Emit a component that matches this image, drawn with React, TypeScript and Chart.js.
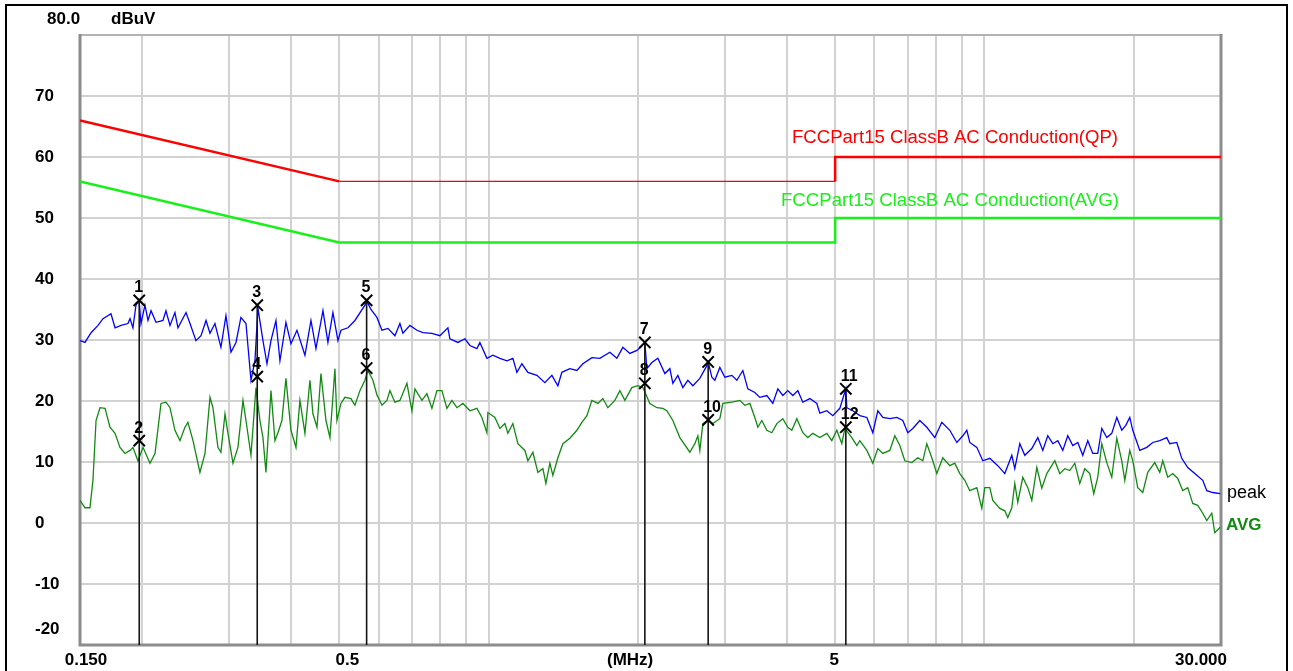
import React, { useEffect, useRef } from "react";
import { Chart, registerables } from "chart.js";

Chart.register(...registerables);

// ---------- axis ----------
const X_MIN = 0.15;
const X_MAX = 30;
const Y_MIN = -20;
const Y_MAX = 80;
const xGridValues = [0.15, 0.2, 0.3, 0.4, 0.5, 0.6, 0.7, 0.8, 0.9, 1, 2, 3, 4, 5, 6, 7, 8, 9, 10, 20, 30];
const xTickValues = [0.15, 0.5, 1.93, 5, 30];
const xTickLabels = ["0.150", "0.5", "(MHz)", "5", "30.000"];

// ---------- peak trace (MHz / dBuV) ----------
const peakFreq = [
  0.150, 0.1535, 0.1579, 0.1631, 0.1669, 0.1732, 0.1765, 0.1815, 0.1874, 0.1892,
  0.1918, 0.1945, 0.1973, 0.1991, 0.2028, 0.2057, 0.2086, 0.2135, 0.2205, 0.2236,
  0.2278, 0.2331, 0.2364, 0.2454, 0.2500, 0.2570, 0.2631, 0.2693, 0.2743, 0.2807,
  0.2886, 0.2954, 0.3024, 0.3095, 0.3167, 0.3242, 0.3318, 0.3380, 0.3427, 0.3508,
  0.3574, 0.3641, 0.3726, 0.3796, 0.3903, 0.3995, 0.4108, 0.4263, 0.4384, 0.4487,
  0.4635, 0.4743, 0.4855, 0.4969, 0.5039, 0.5205, 0.5377, 0.5633, 0.5677, 0.5792,
  0.5955, 0.6095, 0.6267, 0.6474, 0.6626, 0.6719, 0.6941, 0.7171, 0.7373, 0.7687,
  0.7978, 0.8280, 0.8357, 0.8673, 0.8960, 0.9171, 0.9474, 0.9606, 0.9924, 1.0204,
  1.0541, 1.0890, 1.1196, 1.1407, 1.1674, 1.2004, 1.2517, 1.2990, 1.3419, 1.3798,
  1.4056, 1.4589, 1.5071, 1.5496, 1.6157, 1.6769, 1.7565, 1.8146, 1.8658, 1.9275,
  1.9913, 2.0378, 2.0664, 2.0858, 2.1347, 2.1949, 2.2676, 2.3208, 2.3533, 2.4085,
  2.4651, 2.5230, 2.5823, 2.6676, 2.7559, 2.7727, 2.8204, 2.8601, 2.9271, 2.9959,
  3.0948, 3.1678, 3.2570, 3.3334, 3.4437, 3.5245, 3.6412, 3.7437, 3.8316, 3.9216,
  4.0137, 4.1079, 4.2043, 4.3032, 4.4455, 4.5926, 4.6568, 4.8109, 4.9464, 5.1099,
  5.2545, 5.2790, 5.4277, 5.6071, 5.7927, 5.9558, 6.0956, 6.2388, 6.4451, 6.6584,
  6.8459, 7.0066, 7.1712, 7.4083, 7.6535, 7.9428, 8.2047, 8.5155, 8.7974, 9.0451,
  9.2155, 9.3441, 9.6534, 9.9251, 10.253, 10.641, 10.992, 11.356, 11.515, 11.786,
  12.063, 12.461, 12.813, 13.113, 13.421, 13.737, 14.059, 14.390, 14.727, 15.073,
  15.427, 15.789, 16.160, 16.539, 16.928, 17.246, 17.653, 18.064, 18.490, 18.923,
  19.280, 19.640, 19.915, 20.573, 21.254, 21.853, 22.575, 23.322, 23.648, 24.431,
  25.002, 25.708, 26.559, 27.563, 28.082, 28.873, 29.9,
];
const peakLevel = [
  29.9, 29.6, 31.2, 32.4, 33.5, 34.3, 32.0, 32.4, 32.7, 33.5,
  32.0, 35.7, 36.5, 32.7, 35.7, 33.2, 34.8, 32.9, 33.2, 34.8,
  32.4, 34.5, 32.0, 34.5, 32.7, 29.9, 30.7, 33.2, 31.1, 32.7,
  28.8, 34.0, 28.0, 29.6, 33.7, 32.7, 23.4, 26.6, 35.2, 29.9,
  26.1, 29.9, 33.2, 26.6, 32.9, 29.4, 31.6, 27.5, 33.2, 28.6,
  34.8, 29.6, 34.5, 29.9, 31.6, 32.0, 33.2, 35.7, 36.4, 35.0,
  33.7, 31.6, 31.9, 30.7, 32.7, 31.1, 32.4, 31.6, 31.2, 31.1,
  30.7, 32.0, 30.2, 29.6, 30.2, 29.1, 28.6, 29.6, 27.0, 27.5,
  27.0, 26.6, 27.0, 24.7, 26.1, 24.7, 24.2, 23.0, 24.2, 22.5,
  24.7, 25.3, 25.0, 26.1, 27.1, 27.0, 28.0, 27.0, 28.8, 27.8,
  28.3, 29.0, 29.6, 25.3, 26.3, 27.0, 24.5, 25.3, 22.9, 24.2,
  22.2, 23.4, 22.5, 23.7, 25.8, 26.4, 23.9, 23.4, 25.5, 23.9,
  24.2, 23.4, 25.0, 22.0, 21.4, 20.6, 20.9, 19.6, 22.0, 20.9,
  21.7, 20.9, 21.7, 19.8, 20.4, 19.6, 18.0, 18.4, 17.6, 18.8,
  22.0, 18.9, 18.4, 17.6, 17.3, 14.8, 18.4, 17.3, 17.1, 17.3,
  16.8, 14.8, 15.5, 16.8, 15.7, 14.0, 16.5, 15.2, 13.2, 14.3,
  15.2, 13.2, 12.4, 10.2, 10.6, 9.4, 8.1, 11.1, 8.9, 13.0,
  11.1, 12.2, 14.0, 11.9, 14.3, 13.0, 13.5, 11.9, 14.3, 12.7,
  13.2, 11.1, 13.5, 11.4, 11.4, 15.5, 14.0, 14.7, 17.3, 15.2,
  16.0, 17.3, 15.2, 11.9, 12.4, 13.2, 13.5, 14.0, 13.0, 13.2,
  10.6, 9.1, 8.1, 7.0, 5.3, 5.0, 4.8,
];

// ---------- average trace (MHz / dBuV) ----------
const avgFreq = [
  0.150, 0.1535, 0.1571, 0.1593, 0.1616, 0.1646, 0.1685, 0.1724, 0.1765, 0.1806,
  0.1849, 0.1892, 0.1918, 0.1963, 0.2010, 0.2076, 0.2125, 0.2185, 0.2236, 0.2278,
  0.2331, 0.2386, 0.2442, 0.2476, 0.2535, 0.2618, 0.2680, 0.2743, 0.2781, 0.2846,
  0.2886, 0.2941, 0.2982, 0.3052, 0.3123, 0.3197, 0.3242, 0.3318, 0.3396, 0.3459,
  0.3508, 0.3557, 0.3641, 0.3709, 0.3761, 0.3831, 0.3903, 0.3995, 0.4089, 0.4165,
  0.4263, 0.4363, 0.4424, 0.4508, 0.4592, 0.4700, 0.4788, 0.4900, 0.4946, 0.5039,
  0.5133, 0.5278, 0.5377, 0.5503, 0.5633, 0.5711, 0.5845, 0.5955, 0.6095, 0.6238,
  0.6326, 0.6474, 0.6626, 0.6846, 0.7006, 0.7104, 0.7339, 0.7512, 0.7687, 0.7869,
  0.8053, 0.8242, 0.8435, 0.8634, 0.8877, 0.9171, 0.9474, 0.9696, 0.9924, 0.9969,
  1.0299, 1.0541, 1.0789, 1.0939, 1.1196, 1.1459, 1.1838, 1.2004, 1.2286, 1.2574,
  1.2870, 1.3051, 1.3295, 1.3481, 1.3798, 1.4122, 1.4589, 1.5071, 1.5424, 1.5788,
  1.6157, 1.6613, 1.7004, 1.7403, 1.7978, 1.8400, 1.8833, 1.9454, 2.0004, 2.0473,
  2.1150, 2.1850, 2.2465, 2.2888, 2.3533, 2.4311, 2.5466, 2.6064, 2.6429, 2.6676,
  2.7049, 2.7683, 2.8335, 2.9271, 2.9681, 3.0948, 3.2120, 3.2875, 3.3646, 3.4437,
  3.4918, 3.5573, 3.6412, 3.7263, 3.8142, 3.9216, 4.0137, 4.0889, 4.1853, 4.3032,
  4.4042, 4.5077, 4.6568, 4.8109, 4.9235, 5.0396, 5.1574, 5.2300, 5.4026, 5.5300,
  5.6071, 5.7927, 5.9558, 6.0956, 6.2388, 6.4451, 6.5966, 6.7514, 6.9101, 7.1380,
  7.3395, 7.5120, 7.6535, 7.8326, 8.0173, 8.2429, 8.5155, 8.7156, 8.9202, 9.1298,
  9.3441, 9.6534, 9.8791, 10.018, 10.253, 10.397, 10.740, 10.992, 11.146, 11.356,
  11.515, 11.676, 11.951, 12.232, 12.461, 12.755, 13.052, 13.360, 13.865, 14.191,
  14.524, 14.865, 15.214, 15.571, 15.937, 16.311, 16.616, 16.928, 17.246, 17.653,
  18.064, 18.490, 18.923, 19.190, 19.640, 19.915, 20.382, 20.861, 21.351, 22.057,
  22.575, 22.891, 23.428, 23.979, 24.542, 25.119, 25.708, 26.312, 26.930, 27.563,
  28.082, 28.739, 29.143, 29.9,
];
const avgLevel = [
  3.7, 2.5, 2.5, 7.0, 16.8, 18.9, 18.8, 15.7, 14.7, 12.4,
  11.4, 11.9, 12.4, 10.2, 12.4, 9.8, 11.4, 19.6, 19.8, 18.9,
  15.2, 13.5, 15.7, 16.5, 13.5, 8.3, 11.4, 20.6, 18.9, 12.4,
  11.6, 17.9, 14.7, 9.8, 12.4, 20.1, 16.8, 11.1, 22.2, 16.8,
  14.0, 8.3, 21.7, 13.5, 14.8, 16.8, 23.7, 15.2, 12.4, 20.1,
  14.7, 23.4, 17.9, 15.7, 24.5, 16.8, 14.0, 25.3, 16.8, 19.6,
  20.6, 20.4, 19.3, 21.7, 23.4, 25.0, 23.4, 21.0, 19.3, 20.1,
  21.7, 19.8, 20.1, 22.9, 18.4, 22.0, 20.1, 21.2, 18.8, 21.7,
  21.7, 18.8, 20.1, 18.9, 19.6, 18.4, 18.8, 17.3, 14.8, 18.1,
  17.3, 15.5, 16.3, 14.7, 16.3, 13.0, 11.9, 10.2, 11.6, 8.3,
  8.9, 6.5, 9.8, 7.8, 10.7, 13.0, 13.9, 15.2, 16.5, 17.6,
  20.1, 19.6, 20.4, 18.9, 20.1, 21.7, 20.1, 22.2, 22.5, 22.2,
  19.6, 18.9, 18.8, 18.4, 16.8, 14.0, 11.6, 13.0, 14.3, 11.9,
  16.3, 16.8, 16.3, 17.1, 19.6, 19.8, 20.1, 19.3, 19.6, 17.3,
  15.7, 16.8, 15.2, 14.8, 16.3, 17.1, 15.7, 15.2, 17.1, 14.8,
  14.0, 14.7, 14.0, 14.7, 13.5, 15.2, 13.0, 15.5, 14.0, 12.7,
  13.5, 11.9, 9.8, 12.2, 11.4, 11.9, 14.3, 12.7, 10.2, 9.9,
  10.7, 10.2, 13.0, 10.7, 8.1, 10.7, 9.4, 9.8, 8.1, 7.0,
  5.3, 5.8, 2.4, 5.8, 5.8, 3.7, 2.4, 2.0, 0.9, 2.5,
  6.5, 3.4, 7.5, 5.8, 3.7, 9.1, 5.7, 8.1, 10.2, 8.1,
  8.9, 8.6, 9.8, 6.5, 8.9, 8.1, 4.8, 7.5, 13.0, 9.9,
  7.5, 13.9, 10.2, 7.0, 11.9, 10.2, 5.8, 5.0, 8.3, 9.9,
  8.3, 10.2, 7.5, 8.1, 7.3, 5.3, 5.8, 3.2, 2.9, 1.6,
  0.4, 1.6, -1.6, -0.7,
];

// ---------- limit lines ----------
const qpLimitFreq = [0.15, 0.5, 5, 5, 30];
const qpLimitLevel = [66, 56, 56, 60, 60];
const avgLimitFreq = [0.15, 0.5, 5, 5, 30];
const avgLimitLevel = [56, 46, 46, 50, 50];
const qpLimitName = "FCCPart15 ClassB AC Conduction(QP)";
const avgLimitName = "FCCPart15 ClassB AC Conduction(AVG)";

// ---------- markers ----------
const markerNo = [1, 2, 3, 4, 5, 6, 7, 8, 9, 10, 11, 12];
const markerFreq = [0.1975, 0.1975, 0.3416, 0.3416, 0.5677, 0.5677, 2.0664, 2.0664, 2.7727, 2.7727, 5.2545, 5.2545];
const markerLevel = [36.5, 13.5, 35.7, 24.0, 36.5, 25.4, 29.6, 22.9, 26.4, 16.9, 22.0, 15.7];

const PEAK_COLOR = "#0000ff";
const AVG_COLOR = "#118a11";
const QP_LIMIT_COLOR = "#ff0000";
const AVG_LIMIT_COLOR = "#19f019";
const FONT = "'Liberation Sans', Arial, sans-serif";

const zip = (f: number[], v: number[]) => f.map((x, i) => ({ x, y: v[i] }));

const overlay = {
  id: "overlay",
  beforeDatasetsDraw(chart: any) {
    const { ctx, chartArea: a } = chart;
    ctx.save();
    ctx.strokeStyle = "#b4b4b4";
    ctx.lineWidth = 2;
    ctx.beginPath();
    ctx.moveTo(a.left, a.top);
    ctx.lineTo(a.right, a.top);
    ctx.stroke();
    ctx.strokeStyle = "#8c8c8c";
    ctx.lineWidth = 3;
    ctx.beginPath();
    ctx.moveTo(a.left, a.top - 1);
    ctx.lineTo(a.left, a.bottom);
    ctx.lineTo(a.right, a.bottom);
    ctx.lineTo(a.right, a.top - 1);
    ctx.stroke();
    ctx.restore();
  },
  afterDraw(chart: any) {
    const { ctx, chartArea: a } = chart;
    const xs = chart.scales.x;
    const ys = chart.scales.y;
    ctx.save();

    // outer frame
    ctx.strokeStyle = "#000";
    ctx.lineWidth = 2;
    ctx.strokeRect(6, 5, 1281, 720);

    // y unit + top/bottom labels
    ctx.fillStyle = "#000";
    ctx.font = `bold 17px ${FONT}`;
    ctx.textBaseline = "middle";
    ctx.textAlign = "left";
    ctx.fillText("80.0", 47, 19);
    ctx.fillText("dBuV", 111, 19);
    ctx.fillText(String(Y_MIN), 35, ys.getPixelForValue(Y_MIN) - 16);

    // x labels
    const shifts = [6, 8, 0, -1, -20];
    ctx.textAlign = "center";
    xTickValues.forEach((v, i) => {
      ctx.fillText(xTickLabels[i], xs.getPixelForValue(v) + shifts[i], 660);
    });

    // limit names
    const drawFit = (text: string, color: string, right: number, cy: number, width: number) => {
      ctx.save();
      ctx.font = `19px ${FONT}`;
      ctx.fillStyle = color;
      ctx.textAlign = "left";
      ctx.textBaseline = "middle";
      const w = ctx.measureText(text).width;
      const sx = width / w;
      ctx.translate(right - width, cy);
      ctx.scale(sx, 1);
      ctx.fillText(text, 0, 0);
      ctx.restore();
    };
    drawFit(qpLimitName, QP_LIMIT_COLOR, a.right - 103, ys.getPixelForValue(60) - 19, 326);
    drawFit(avgLimitName, AVG_LIMIT_COLOR, a.right - 102, ys.getPixelForValue(50) - 17, 338);

    // trace names
    ctx.textAlign = "left";
    ctx.font = `18px ${FONT}`;
    ctx.fillStyle = "#000";
    ctx.fillText("peak", a.right + 6, ys.getPixelForValue(peakLevel[peakLevel.length - 1]) - 1);
    ctx.font = `bold 17px ${FONT}`;
    ctx.fillStyle = AVG_COLOR;
    ctx.fillText("AVG", a.right + 5, ys.getPixelForValue(avgLevel[avgLevel.length - 1]) - 2);

    // marker numbers
    ctx.fillStyle = "#000";
    ctx.font = `bold 16px ${FONT}`;
    ctx.textBaseline = "alphabetic";
    markerNo.forEach((n, i) => {
      const px = xs.getPixelForValue(markerFreq[i]);
      const py = ys.getPixelForValue(markerLevel[i]);
      ctx.fillText(String(n), px - 5, py - 8);
    });
    ctx.restore();
  },
};

export default function App() {
  const ref = useRef<HTMLCanvasElement>(null);

  useEffect(() => {
    const canvas = ref.current;
    if (!canvas) return;

    const markerLineSets: any[] = [];
    for (let i = 0; i < markerFreq.length; i += 2) {
      markerLineSets.push({
        label: `marker ${markerNo[i]}`,
        data: [
          { x: markerFreq[i], y: markerLevel[i] },
          { x: markerFreq[i], y: Y_MIN },
        ],
        borderColor: "#151515",
        borderWidth: 1.6,
        pointRadius: 0,
        order: 1,
      });
    }

    const chart = new Chart(canvas, {
      type: "line",
      data: {
        datasets: [
          {
            label: "markers",
            data: zip(markerFreq, markerLevel),
            showLine: false,
            pointStyle: "crossRot",
            pointRadius: 8,
            pointBorderWidth: 2,
            pointBorderColor: "#000",
            pointBackgroundColor: "#000",
            order: 0,
          },
          ...markerLineSets,
          {
            label: "peak",
            data: zip(peakFreq, peakLevel),
            borderColor: PEAK_COLOR,
            borderWidth: 1.3,
            pointRadius: 0,
            order: 2,
          },
          {
            label: "AVG",
            data: zip(avgFreq, avgLevel),
            borderColor: AVG_COLOR,
            borderWidth: 1.3,
            pointRadius: 0,
            order: 2,
          },
          {
            label: qpLimitName,
            data: zip(qpLimitFreq, qpLimitLevel),
            borderColor: QP_LIMIT_COLOR,
            borderWidth: 2.5,
            pointRadius: 0,
            segment: {
              borderWidth: (c: any) => (c.p0DataIndex === 1 ? 1.3 : 2.5),
            },
            order: 3,
          },
          {
            label: avgLimitName,
            data: zip(avgLimitFreq, avgLimitLevel),
            borderColor: AVG_LIMIT_COLOR,
            borderWidth: 2.5,
            pointRadius: 0,
            order: 3,
          },
        ] as any,
      },
      options: {
        responsive: false,
        animation: false,
        events: [],
        layout: { padding: { left: 35, top: 35, right: 72, bottom: 0 } },
        plugins: {
          legend: { display: false },
          tooltip: { enabled: false },
          title: { display: false },
        },
        scales: {
          x: {
            type: "logarithmic",
            min: X_MIN,
            max: X_MAX,
            afterBuildTicks: (s: any) => {
              s.ticks = xGridValues.map((v) => ({ value: v }));
            },
            afterFit: (s: any) => {
              s.height = 26;
            },
            ticks: { display: false },
            grid: { color: "#d2d2d2", lineWidth: 2, drawTicks: false },
            border: { display: false },
          },
          y: {
            type: "linear",
            min: Y_MIN,
            max: Y_MAX,
            afterFit: (s: any) => {
              s.width = 45;
            },
            ticks: {
              stepSize: 10,
              crossAlign: "far",
              padding: 0,
              color: "#000",
              font: { family: FONT, size: 17, weight: "bold" },
              callback: (v: any) => (v === Y_MAX || v === Y_MIN ? "" : String(v)),
            },
            grid: { color: "#d2d2d2", lineWidth: 2, drawTicks: false },
            border: { display: false },
          },
        },
      } as any,
      plugins: [overlay],
    });

    return () => chart.destroy();
  }, []);

  return (
    <div style={{ position: "absolute", left: 0, top: 0, width: 1293, height: 671, background: "#fff", overflow: "hidden" }}>
      <canvas ref={ref} width={1293} height={671} style={{ display: "block" }} />
    </div>
  );
}
